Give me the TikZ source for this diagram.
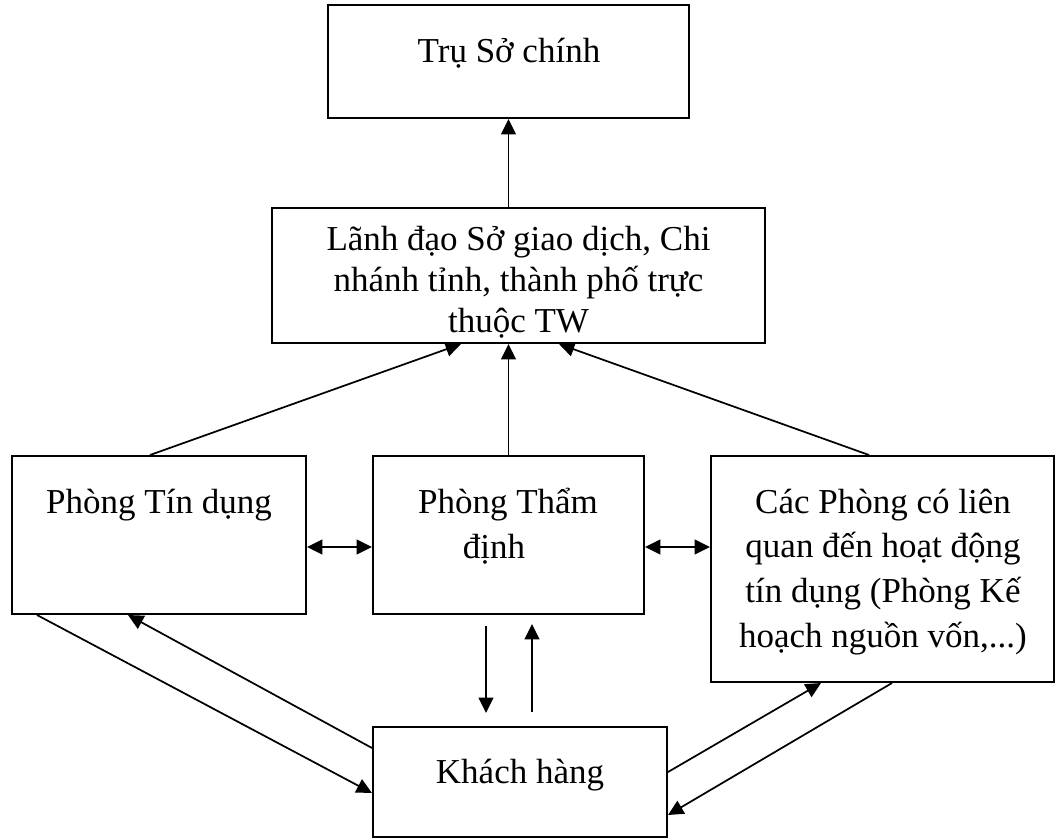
\documentclass[tikz,border=0pt]{standalone}
\usepackage{fontspec}
\setmainfont{Liberation Serif}
\usetikzlibrary{arrows.meta,calc}
\newdimen\pxu \pxu=0.75pt
\begin{document}
\begin{tikzpicture}[x=0.75pt,y=-0.75pt,
  box/.style={draw,line width=1.5pt,inner sep=0pt,minimum width=#1},
  boxtext/.style={inner sep=0pt,anchor=base,align=center,
    font=\fontsize{26.25pt}{#1}\selectfont},
  boxtext/.default=32.5pt,
  tip/.style={Triangle[length=11.5pt,width=11pt]},
  conn/.style={line width=1.3pt,-{Triangle[length=11.5pt,width=11pt]}},
  dconn/.style={line width=1.3pt,{Triangle[length=11.5pt,width=11pt]}-{Triangle[length=11.5pt,width=11pt]}}]
\useasboundingbox (0,0) rectangle (1056,839);

% boxes
\node[box=270.75pt,minimum height=84.75pt] (tru) at (508.5,61.5) {};
\node[box=369.75pt,minimum height=101.25pt] (lanh) at (518.5,275.5) {};
\node[box=220.5pt,minimum height=118.5pt] (tin) at (159,535) {};
\node[box=203.25pt,minimum height=118.5pt] (tham) at (508.5,535) {};
\node[box=257.25pt,minimum height=169.5pt] (cac) at (882.5,569) {};
\node[box=220.5pt,minimum height=82.5pt] (khach) at (520,782) {};

% texts (base anchor = baseline of the last line)
\node[boxtext] (tru-t) at (509,62) {Trụ Sở chính};
\node[boxtext=30.75pt] (lanh-t) at (518.5,332) {Lãnh đạo Sở giao dịch, Chi\\nhánh tỉnh, thành phố trực\\thuộc TW};
\node[boxtext] (tin-t) at (159,513) {Phòng Tín dụng};
\node[boxtext=33.75pt] (tham-t) at (508,558) {Phòng Thẩm\\định\hspace*{21pt}};
\node[boxtext=33.5pt] (cac-t) at (883,647) {Các Phòng có liên\\quan đến hoạt động\\tín dụng (Phòng Kế\\hoạch nguồn vốn,...)};
\node[boxtext] (khach-t) at (520,783) {Khách hàng};

% reporting lines upward
\draw[conn] (lanh.north -| tru.south) -- (tru.south);
\draw[conn] ([xshift=-9\pxu]tin.north) -- ([xshift=-57.5\pxu]lanh.south);
\draw[conn] (tham.north) -- (tham.north |- lanh.south);
\draw[conn] ([xshift=-13.5\pxu]cac.north) -- ([xshift=40.5\pxu]lanh.south);

% exchanges between departments
\coordinate (m1) at ([yshift=-12\pxu]tin.east);
\draw[dconn] (m1) -- (m1 -| tham.west);
\coordinate (m2) at ([yshift=-12\pxu]tham.east);
\draw[dconn] (m2) -- (m2 -| cac.west);

% links with the customer
\coordinate (d1) at ([xshift=-22.5\pxu,yshift=-11\pxu]tham.south);
\coordinate (d2) at ([yshift=13\pxu]khach.north);
\draw[conn] (d1) -- (d1 |- d2);
\coordinate (u1) at ([xshift=23.5\pxu,yshift=-9\pxu]tham.south);
\coordinate (u2) at ([yshift=14\pxu]khach.north);
\draw[conn] (u1 |- u2) -- (u1);

\draw[conn] ([xshift=-122\pxu]tin.south) -- ([yshift=-11\pxu]khach.west);
\draw[conn] ([yshift=34\pxu]khach.west) -- ([xshift=-31\pxu]tin.south);
\draw[conn] ([yshift=10\pxu]khach.east) -- ([xshift=-61.5\pxu]cac.south);
\draw[conn] ([xshift=9.5\pxu]cac.south) -- ([yshift=-33\pxu]khach.east);
\end{tikzpicture}
\end{document}
